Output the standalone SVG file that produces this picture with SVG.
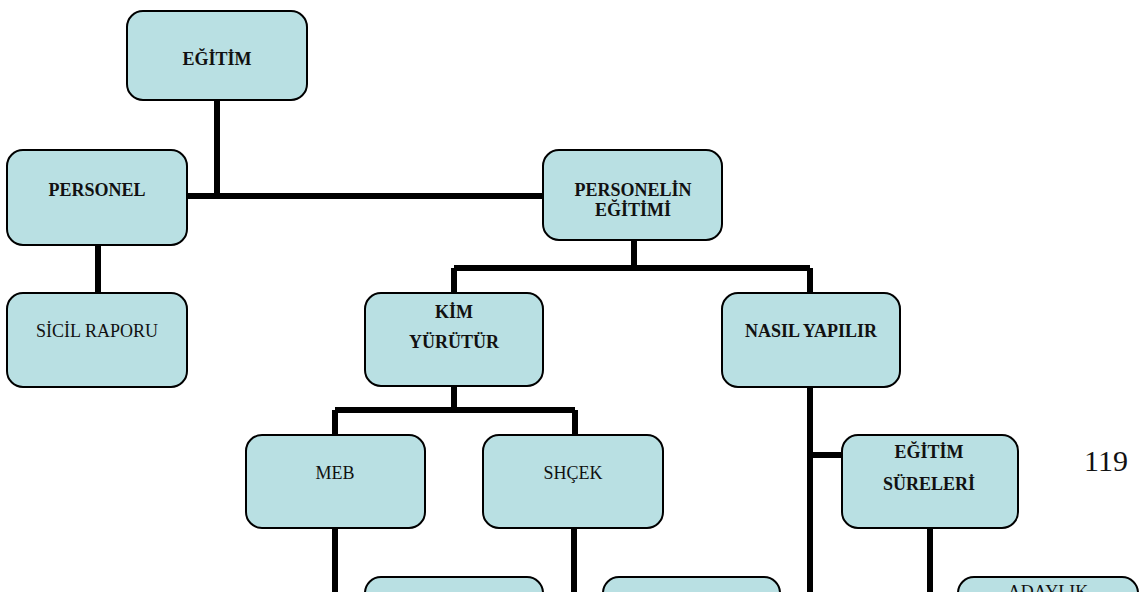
<svg xmlns="http://www.w3.org/2000/svg" width="1139" height="592" viewBox="0 0 1139 592">
<style>
.box{fill:#b9e0e3;stroke:#000;stroke-width:2}
.t{font-family:"Liberation Serif","Times New Roman",serif;font-size:18px;fill:#111;text-anchor:middle}
.b{font-weight:bold}
.c{stroke:#000;stroke-width:6;fill:none;stroke-linecap:butt}
</style>
<rect width="1139" height="592" fill="#fff"/>
<g id="connectors">
<path class="c" d="M217 100V196M187 196H543"/>
<path class="c" d="M98 245V293"/>
<path class="c" d="M634 240V268M454 268H810M454 268V293M810 268V293"/>
<path class="c" d="M454 385V410M335 410H575M335 410V435M575 410V435"/>
<path class="c" d="M335 528V592M574 528V592"/>
<path class="c" d="M810 387V592M810 455H842"/>
<path class="c" d="M930 528V592"/>
</g>
<g id="egitim"><rect class="box" x="127" y="11" width="180" height="89" rx="16"/><text class="t b" x="217" y="65">EĞİTİM</text></g>
<g id="personel"><rect class="box" x="7" y="150" width="180" height="95" rx="16"/><text class="t b" x="97" y="196">PERSONEL</text></g>
<g id="personelin-egitimi"><rect class="box" x="543" y="150" width="179" height="90" rx="16"/><text class="t b" x="633" y="196">PERSONELİN</text><text class="t b" x="633" y="216">EĞİTİMİ</text></g>
<g id="sicil-raporu"><rect class="box" x="7" y="293" width="180" height="94" rx="16"/><text class="t" x="97" y="337">SİCİL RAPORU</text></g>
<g id="kim-yurutur"><rect class="box" x="365" y="293" width="178" height="93" rx="16"/><text class="t b" x="454" y="318">KİM</text><text class="t b" x="454" y="348">YÜRÜTÜR</text></g>
<g id="nasil-yapilir"><rect class="box" x="722" y="293" width="178" height="94" rx="16"/><text class="t b" x="811" y="337">NASIL YAPILIR</text></g>
<g id="meb"><rect class="box" x="246" y="435" width="179" height="93" rx="16"/><text class="t" x="335" y="479">MEB</text></g>
<g id="shcek"><rect class="box" x="483" y="435" width="180" height="93" rx="16"/><text class="t" x="573" y="479">SHÇEK</text></g>
<g id="egitim-sureleri"><rect class="box" x="842" y="435" width="176" height="93" rx="16"/><text class="t b" x="929" y="458">EĞİTİM</text><text class="t b" x="929" y="490">SÜRELERİ</text></g>
<g id="bottom-left"><rect class="box" x="365" y="577" width="178" height="60" rx="16"/></g>
<g id="bottom-mid"><rect class="box" x="603" y="577" width="177" height="60" rx="16"/></g>
<g id="adaylik"><rect class="box" x="958" y="577" width="180" height="60" rx="16"/><text class="t" x="1048" y="598">ADAYLIK</text></g>
<text x="1084" y="471" font-family="Liberation Serif, Times New Roman, serif" font-size="30" fill="#111">119</text>
</svg>
